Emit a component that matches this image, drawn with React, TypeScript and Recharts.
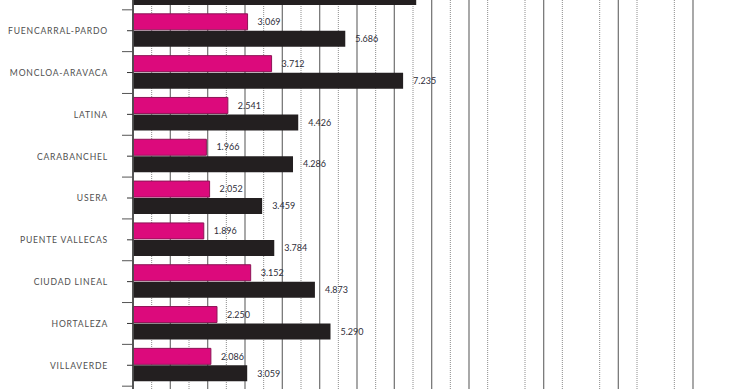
// @ts-nocheck
import React from 'react';
import { BarChart, Bar, XAxis, YAxis, CartesianGrid, LabelList } from 'recharts';

// distritos (el primero y el último quedan recortados en la imagen)
const districts = [
  'CHAMBERÍ',
  'FUENCARRAL-PARDO',
  'MONCLOA-ARAVACA',
  'LATINA',
  'CARABANCHEL',
  'USERA',
  'PUENTE VALLECAS',
  'CIUDAD LINEAL',
  'HORTALEZA',
  'VILLAVERDE',
  'VILLA DE VALLECAS',
];
const pinkValues = [3480, 3069, 3712, 2541, 1966, 2052, 1896, 3152, 2250, 2086, 1820];
const blackValues = [7586, 5686, 7235, 4426, 4286, 3459, 3784, 4873, 5290, 3059, 3210];

const X_MAX = 15000;
const majorTicks = [0, 1000, 2000, 3000, 4000, 5000, 6000, 7000, 8000, 9000, 10000, 11000, 12000, 13000, 14000, 15000];
const minorTicks = [500, 1500, 2500, 3500, 4500, 5500, 6500, 7500, 8500, 9500, 10500, 11500, 12500, 13500, 14500];

const data = districts.map((name, i) => ({ name, pink: pinkValues[i], black: blackValues[i] }));

const fmt = (v: number) => String(v).replace(/\B(?=(\d{3})+(?!\d))/g, '.');

const TICK_SIZE = 6;
const TICK_MARGIN = 19;

const DistrictTick = ({ x, y, payload }: any) => {
  const axisX = x + TICK_SIZE + TICK_MARGIN;
  const half = payload.offset || 20.9;
  return (
    <g>
      <line x1={axisX - TICK_SIZE} x2={axisX} y1={y} y2={y} stroke="#333" strokeWidth={1} />
      <line x1={axisX - 11} x2={axisX} y1={y - half} y2={y - half} stroke="#555" strokeWidth={1} />
      <text
        x={x}
        y={y}
        dy="0.4em"
        textAnchor="end"
        fill="#505050"
        fontSize={8.6}
        letterSpacing={0.8}
        fontFamily="Lato, 'DejaVu Sans', sans-serif"
      >
        {payload.value}
      </text>
    </g>
  );
};

export default function App() {
  return (
    <div
      style={{
        position: 'fixed',
        top: 0,
        left: 0,
        width: 740,
        height: 389,
        overflow: 'hidden',
        background: '#fff',
      }}
    >
      <div style={{ position: 'absolute', top: -32, left: 0 }}>
        <BarChart
          width={740}
          height={460}
          layout="vertical"
          data={data}
          margin={{ top: 0, right: 47, bottom: 0, left: 0 }}
          barCategoryGap={4}
          barGap={1}
        >
          <CartesianGrid
            horizontal={false}
            vertical
            stroke="#8c8c8c"
            strokeDasharray="1 1"
            verticalCoordinatesGenerator={({ offset }) =>
              minorTicks.map((v) => offset.left + (v / X_MAX) * offset.width)
            }
          />
          <CartesianGrid horizontal={false} vertical stroke="#7a7a7a" strokeWidth={1.3} />
          <XAxis type="number" hide domain={[0, X_MAX]} ticks={majorTicks} />
          <YAxis
            type="category"
            dataKey="name"
            width={133}
            tickLine={false}
            tickSize={TICK_SIZE}
            tickMargin={TICK_MARGIN}
            axisLine={{ stroke: '#4d4d4d', strokeWidth: 1.8 }}
            tick={<DistrictTick />}
            interval={0}
          />
          <Bar dataKey="pink" fill="#dc0a7c" stroke="#8e1456" strokeWidth={1} isAnimationActive={false}>
            <LabelList
              dataKey="pink"
              position="right"
              offset={10}
              formatter={fmt}
              fill="#2e2e3a"
              fontSize={9}
              fontFamily="Lato, 'DejaVu Sans', sans-serif"
            />
          </Bar>
          <Bar dataKey="black" fill="#231f20" isAnimationActive={false}>
            <LabelList
              dataKey="black"
              position="right"
              offset={10}
              formatter={fmt}
              fill="#2e2e3a"
              fontSize={9}
              fontFamily="Lato, 'DejaVu Sans', sans-serif"
            />
          </Bar>
        </BarChart>
      </div>
    </div>
  );
}
